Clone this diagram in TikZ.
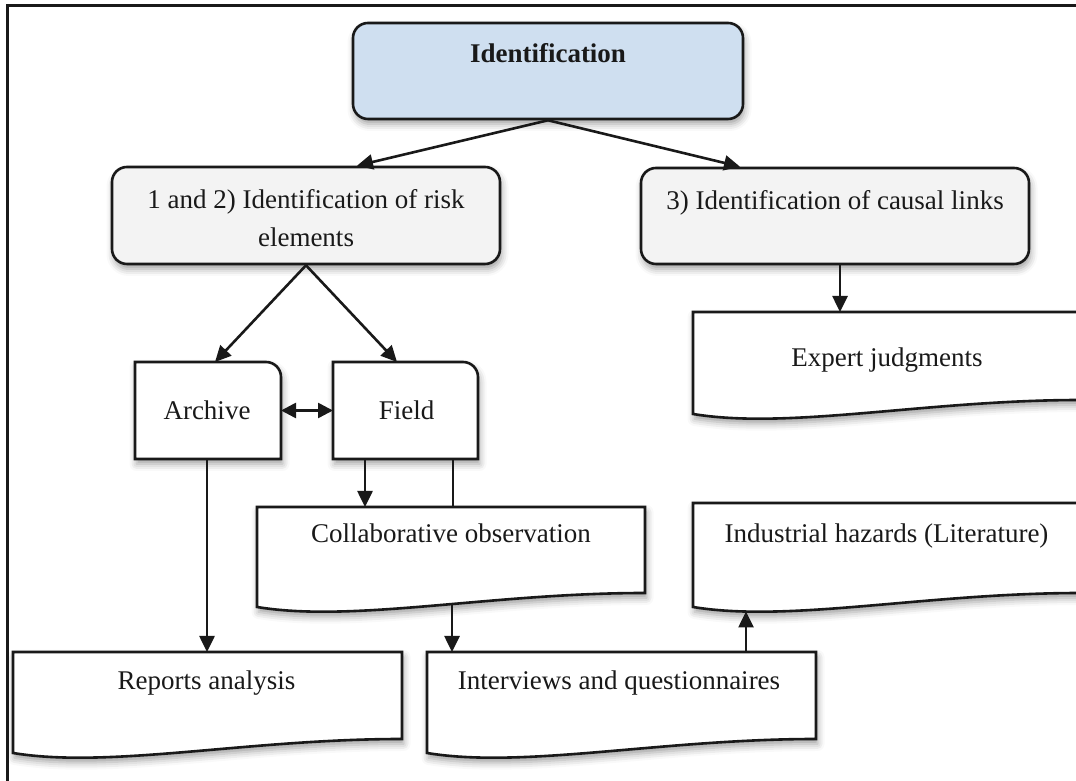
\documentclass[tikz,border=0pt]{standalone}
\usepackage{fontspec}
\setmainfont{Liberation Serif}
\usetikzlibrary{arrows.meta,shadows.blur}

\definecolor{identblue}{RGB}{207,223,240}
\definecolor{softgray}{RGB}{243,243,243}
\definecolor{ink}{RGB}{25,25,25}

\begin{document}
\begin{tikzpicture}[x=1pt,y=1pt,
  softshadow/.style={blur shadow={shadow xshift=1.5pt,shadow yshift=-5pt,
      shadow blur radius=7pt,shadow opacity=38}},
  rbox/.style={draw=ink,line width=2.6pt,rounded corners=15pt,inner sep=0pt,
      minimum height=96pt,softshadow},
  holder/.style={inner sep=0pt,outer sep=0pt,draw=none},
  outline/.style={draw=ink,line width=2.6pt,fill=white,softshadow},
  txt/.style={anchor=base,inner sep=0pt,text=ink,
      font=\fontsize{27}{38}\selectfont},
  conn/.style={draw=ink,line width=2.6pt,-{Triangle[length=16pt,width=15pt]}},
  twoway/.style={draw=ink,line width=2.6pt,
      {Triangle[length=15pt,width=15pt]}-{Triangle[length=15pt,width=15pt]}},
  plain/.style={draw=ink,line width=2.6pt}
]
\clip (0,0) rectangle (1076,781);

% outer frame (left and top edges)
\draw[line width=3pt,ink] (7,-5) -- (7,775) -- (1090,775);

% document shape: straight top and sides, wavy bottom
\newcommand\docshape[1]{%
  \path[outline] (#1.north west) -- (#1.north east) -- ([yshift=14pt]#1.south east)
    .. controls ([xshift=-155.2pt,yshift=14pt]#1.south east)
       and ([xshift=97pt,yshift=-16pt]#1.south west) .. (#1.south west) -- cycle;}

% card shape: one rounded corner at the top right
\newcommand\cardshape[1]{%
  \path[outline] (#1.south west) -- (#1.north west)
    -- ([xshift=-15pt]#1.north east) arc[start angle=90,end angle=0,radius=15pt]
    -- (#1.south east) -- cycle;}

% rounded boxes
\node[rbox,fill=identblue,minimum width=390pt] (ident) at (548,710) {};
\node[rbox,fill=softgray,minimum width=388pt,minimum height=97pt] (risk) at (306,565.5) {};
\node[rbox,fill=softgray,minimum width=388pt] (causal) at (835,565) {};

% card boxes
\node[holder,minimum width=146pt,minimum height=97pt] (archive) at (208,370.5) {};
\node[holder,minimum width=145pt,minimum height=97pt] (field) at (405.5,370.5) {};
\cardshape{archive}
\cardshape{field}

% document boxes
\node[holder,minimum width=389pt,minimum height=101pt] (reports) at (207.5,78.5) {};
\node[holder,minimum width=388pt,minimum height=100pt] (collab) at (451,224) {};
\node[holder,minimum width=389pt,minimum height=101pt] (interviews) at (621.5,78.5) {};
\node[holder,minimum width=388pt,minimum height=104pt] (industrial) at (887,226) {};
\node[holder,minimum width=388pt,minimum height=102pt] (expert) at (887,418) {};
\docshape{reports}
\docshape{collab}
\docshape{interviews}
\docshape{industrial}
\docshape{expert}

% texts
\node[txt,font=\bfseries\fontsize{27}{31}\selectfont] (ident-t) at (548,718) {Identification};
\node[txt,anchor=center,align=center] (risk-t) at (306,562.5)
  {1 and 2) Identification of risk\\elements};
\node[txt] (causal-t) at (835,571) {3) Identification of causal links};
\node[txt] (archive-t) at (207,361) {Archive};
\node[txt] (field-t) at (406.5,361) {Field};
\node[txt] (reports-t) at (206.5,91) {Reports analysis};
\node[txt] (collab-t) at (451,238) {Collaborative observation};
\node[txt] (interviews-t) at (619,91) {Interviews and questionnaires};
\node[txt] (industrial-t) at (886.5,238) {Industrial hazards (Literature)};
\node[txt] (expert-t) at (887,414) {Expert judgments};

% connectors
\draw[conn] (ident.south) -- ([xshift=51pt]risk.north);
\draw[conn] (ident.south) -- ([xshift=-95pt]causal.north);
\draw[conn] (risk.south) -- ([xshift=7pt]archive.north);
\draw[conn] (risk.south) -- ([xshift=-8.5pt]field.north);
\draw[twoway] (archive.east) -- (field.west);
\draw[conn] ([xshift=-1pt]archive.south) -- ([xshift=-0.5pt]reports.north);
\draw[conn] ([xshift=-40.5pt]field.south) -- ([xshift=-86pt]collab.north);
\draw[plain] ([xshift=47.5pt]field.south) -- ([xshift=2pt]collab.north);
\draw[conn] ([xshift=195pt,yshift=3pt]collab.south west) -- ([xshift=-169.5pt]interviews.north);
\draw[conn] ([xshift=124.5pt]interviews.north) -- ([xshift=53pt,yshift=-4.5pt]industrial.south west);
\draw[conn] ([xshift=5pt]causal.south) -- ([xshift=-47pt]expert.north);
\end{tikzpicture}
\end{document}
